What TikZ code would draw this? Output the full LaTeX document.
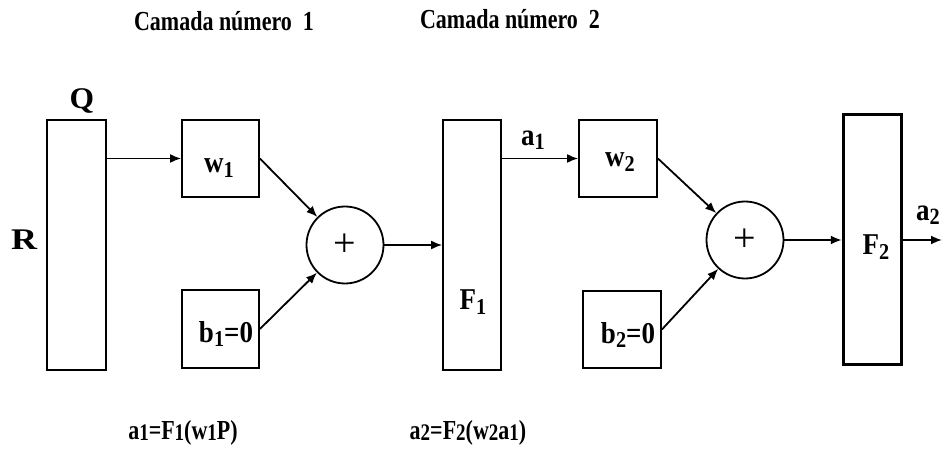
\documentclass[tikz,border=0pt]{standalone}
\usepackage{fontspec}
\usepackage{graphicx}
\setmainfont{Liberation Serif}
\usetikzlibrary{arrows.meta}
\newcommand\sbl[1]{\raisebox{-0.14em}{\scalebox{0.75}{#1}}}
\newcommand\sbf[1]{\raisebox{-0.05em}{\fontsize{19}{20}\selectfont\bfseries #1}}
\newcommand\vs[2]{\scalebox{1}[#1]{#2}}
\tikzset{
  blk/.style={draw, line width=1.8pt, inner sep=0pt},
  sumc/.style={draw, circle, line width=1.8pt, inner sep=0pt, minimum size=77pt, font=\fontsize{40}{42}\selectfont},
  lbl/.style={inner sep=0pt, font=\fontsize{27}{30}\selectfont\bfseries},
  big/.style={inner sep=0pt, font=\fontsize{30}{32}\selectfont\bfseries},
  ttl/.style={inner sep=0pt, font=\fontsize{22}{26}\selectfont\bfseries},
  arr/.style={line width=1.8pt, -{Latex[length=11pt,width=9pt]}},
}
\begin{document}
\begin{tikzpicture}[x=1pt,y=-1pt]
\useasboundingbox (0,0) rectangle (943,457);
% blocks
\node[blk, minimum width=59pt, minimum height=250pt] (in) at (76.5,245) {};
\node[blk, minimum width=77pt, minimum height=77pt] (w1) at (220.5,158.5) {};
\node[blk, minimum width=77pt, minimum height=78pt] (b1) at (220.5,329) {};
\node[sumc] (s1) at (345,245) {+};
\node[blk, minimum width=58pt, minimum height=250pt] (f1) at (472,245) {};
\node[blk, minimum width=78pt, minimum height=77pt] (w2) at (618,158.5) {};
\node[blk, minimum width=78pt, minimum height=77pt] (b2) at (622,329.5) {};
\node[sumc] (s2) at (745,240) {+};
\node[draw, line width=3.5pt, inner sep=0pt, minimum width=58pt, minimum height=250pt] (f2) at (872.5,239.5) {};
% labels
\node[big] (q) at (82,101) {\scalebox{1.05}[1]{Q}};
\node[big] (r) at (24,240) {\scalebox{1.2}[1]{R}};
\node[lbl] (w1t) at (219,168) {\vs{1.12}{w\sbl{1}}};
\node[lbl] (b1t) at (226,334) {\vs{1.12}{b\sbl{1}=0}};
\node[lbl] (f1t) at (473,302) {\vs{1.12}{F\sbl{1}}};
\node[lbl] (a1t) at (533,140) {\vs{1.15}{a\sbl{1}}};
\node[lbl] (w2t) at (620,162) {\vs{1.12}{w\sbl{2}}};
\node[lbl] (b2t) at (628,335) {\vs{1.12}{b\sbl{2}=0}};
\node[lbl] (f2t) at (876,247) {\vs{1.12}{F\sbl{2}}};
\node[lbl] (a2t) at (928,215) {\vs{1.15}{a\sbl{2}}};
\coordinate (out) at (942,240);
% titles and formulas
\node[ttl] (t1) at (224,21) {\vs{1.25}{Camada número\ \ 1}};
\node[ttl] (t2) at (510,19) {\vs{1.25}{Camada número\ \ 2}};
\node[ttl] (e1) at (183,433) {\vs{1.25}{a\sbf{1}=F\sbf{1}(w\sbf{1}P)}};
\node[ttl] (e2) at (468,433) {\vs{1.25}{a\sbf{2}=F\sbf{2}(w\sbf{2}a\sbf{1})}};
% connectors
\draw[arr] (in.east |- w1) -- (w1.west);
\draw[arr] (w1.east) -- (s1);
\draw[arr] (b1.east) -- (s1);
\draw[arr] (s1.east) -- (f1.west |- s1);
\draw[arr] (f1.east |- w2) -- (w2.west);
\draw[arr] (w2.east) -- (s2);
\draw[arr] (b2.east) -- (s2);
\draw[arr] (s2.east) -- (f2.west |- s2);
\draw[arr] (f2.east |- out) -- (out);
\end{tikzpicture}
\end{document}
